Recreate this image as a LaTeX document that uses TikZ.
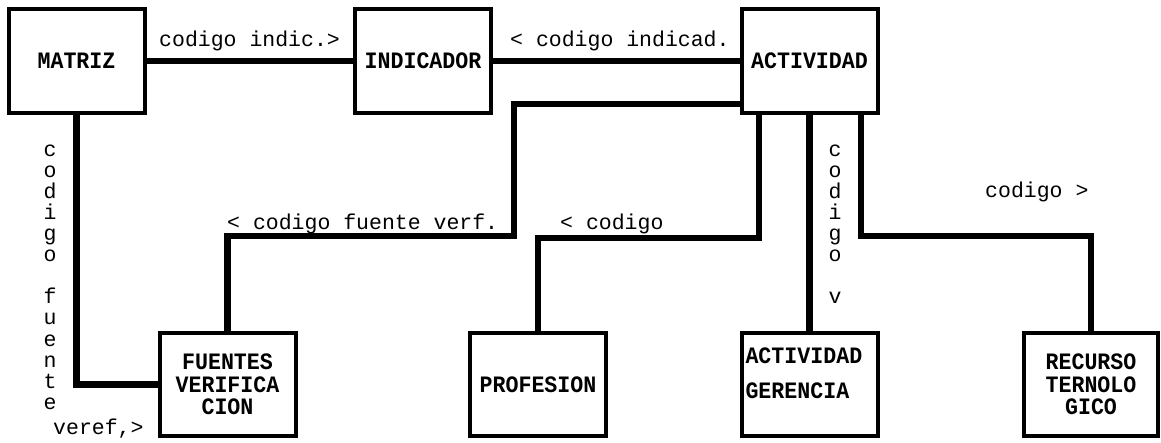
\documentclass[tikz,border=0pt]{standalone}
\usepackage{fontspec}
\newfontfamily\lblfont{Liberation Mono}
\newfontfamily\boxfont{Liberation Mono}[FakeStretch=0.92]
\tikzset{
  box/.style={draw, line width=4pt, inner sep=0pt, minimum width=136pt,
    minimum height=104pt, align=center,
    font=\boxfont\bfseries\fontsize{23.5}{22.5}\selectfont},
  lowbox/.style={box, minimum height=103pt},
  conn/.style={line width=6.5pt, line join=miter},
  lbl/.style={font=\lblfont\fontsize{21.5}{21}\selectfont, inner sep=0pt},
}
\begin{document}
\begin{tikzpicture}[x=1pt,y=-1pt]
\fill[white] (0,0) rectangle (1161,443);
\useasboundingbox (0,0) rectangle (1161,443);

% boxes
\node[box] (matriz) at (76.5,61) {MATRIZ};
\node[box] (indicador) at (423,61) {INDICADOR};
\node[box] (actividad) at (809.5,61) {ACTIVIDAD};
\node[lowbox] (fuentes) at (227.5,384.5) {FUENTES\\VERIFICA\\CION};
\node[lowbox] (profesion) at (538,384.5) {PROFESION};
\node[lowbox, text width=128pt, align=left,
  font=\boxfont\bfseries\fontsize{23.5}{34.5}\selectfont] (gerencia) at (809.5,384.5) {ACTIVIDAD\\GERENCIA\\[-12pt]\mbox{}};
\node[lowbox, minimum width=134pt] (recurso) at (1091,384.5) {RECURSO\\TERNOLO\\GICO};

% connectors
\draw[conn] (matriz.east) -- (indicador.west);
\draw[conn] (indicador.east) -- (actividad.west);
\draw[conn] (actividad.west |- 0,104) -| (514,236) -| (fuentes.north);
\draw[conn] (actividad.south -| 759,0) |- (profesion.north |- 0,238) -- (profesion.north);
\draw[conn] (actividad.south) -- (gerencia.north);
\draw[conn] (actividad.south -| 861,0) |- (recurso.north |- 0,236) -- (recurso.north);
\draw[conn] (matriz.south) |- (fuentes.west);

% labels
\node[lbl, anchor=base west] (l1) at (159,47) {codigo indic.>};
\node[lbl, anchor=base west] (l2) at (510,47) {< codigo indicad.};
\node[lbl, anchor=base west] (l3) at (227,230) {< codigo fuente verf.};
\node[lbl, anchor=base west] (l4) at (560,230) {< codigo};
\node[lbl, anchor=base west] (l5) at (985,198) {codigo >};
\node[lbl, anchor=base west] (l6) at (53,434) {veref,>};
\foreach \ch [count=\i from 0] in {c,o,d,i,g,o,{},f,u,e,n,t,e}
  \node[lbl, anchor=base] (lv\i) at (50,{157+21*\i}) {\ch};
\foreach \ch [count=\i from 0] in {c,o,d,i,g,o,{},v}
  \node[lbl, anchor=base] (rv\i) at (835,{157+21*\i}) {\ch};
\end{tikzpicture}
\end{document}
